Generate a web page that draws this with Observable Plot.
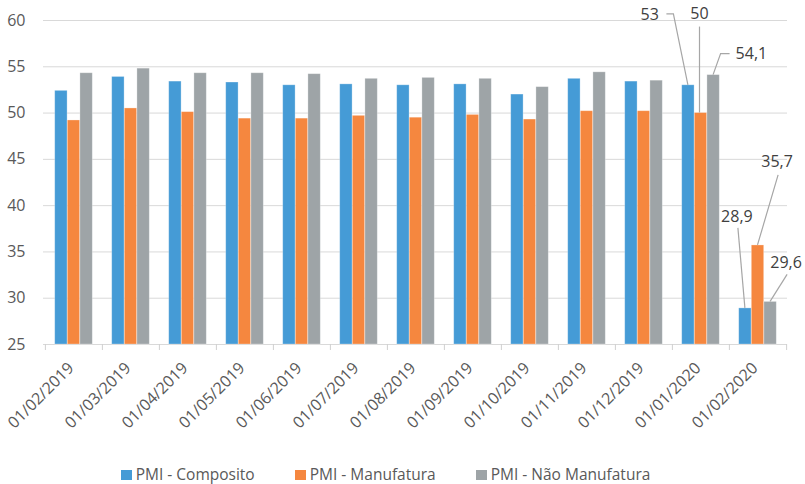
<!DOCTYPE html>
<html><head><meta charset="utf-8">
<script src="https://cdn.jsdelivr.net/npm/d3@7"></script>
<script src="https://cdn.jsdelivr.net/npm/@observablehq/plot@0.6"></script>
<style>
body{margin:0;background:#fff;font-family:"Open Sans",sans-serif;}
#legend{display:flex;justify-content:center;gap:40px;padding-right:34px;margin-top:18px;font-size:15.5px;line-height:19px;height:19px;color:#595959;}
#legend .item{display:flex;align-items:center;}
#legend .sw{display:inline-block;width:11px;height:10px;margin-right:4px;}
</style></head><body>
<div id="chart"></div>
<div id="legend"></div>
<script>
// ---- data ----
const dates = ["01/02/2019","01/03/2019","01/04/2019","01/05/2019","01/06/2019","01/07/2019","01/08/2019","01/09/2019","01/10/2019","01/11/2019","01/12/2019","01/01/2020","01/02/2020"];
const series = ["PMI - Composito","PMI - Manufatura","PMI - Não Manufatura"];
const composito     = [52.4,53.9,53.4,53.3,53.0,53.1,53.0,53.1,52.0,53.7,53.4,53.0,28.9];
const manufatura    = [49.2,50.5,50.1,49.4,49.4,49.7,49.5,49.8,49.3,50.2,50.2,50.0,35.7];
const naoManufatura = [54.3,54.8,54.3,54.3,54.2,53.7,53.8,53.7,52.8,54.4,53.5,54.1,29.6];
const yTicks = [25,30,35,40,45,50,55,60];
const labelledDates = ["01/01/2020","01/02/2020"];

// ---- layout / style ----
const colors = ["#459BD6","#F5873F","#9EA4A7"];
const W = 805, H = 447, mL = 43, mR = 18, mT = 20, mB = H - 344;
const bw = (W - mL - mR) / dates.length;
const barW = 12.6;
// label offsets (px) relative to the top-centre of the labelled bar
const labelLayout = {
  "01/01/2020|0": {t:[-29, -70, "end"],   p:[[-21.5,-71],[-14.5,-71],[0,0]]},
  "01/01/2020|1": {t:[-1, -99, "middle"], p:[[-1,-86],[-1,0]]},
  "01/01/2020|2": {t:[22.5, -21, "start"],p:[[16.5,-21],[7.5,-21],[0,0]]},
  "01/02/2020|0": {t:[-8, -91, "middle"], p:[[-7,-80],[0,0]]},
  "01/02/2020|1": {t:[19.6, -84, "middle"],p:[[20.6,-70],[0,0]]},
  "01/02/2020|2": {t:[16, -39, "middle"], p:[[17,-27],[0,0]]}
};

const values = [composito, manufatura, naoManufatura];
const rows = dates.flatMap((d, i) => series.map((s, j) => ({date: d, series: s, j, value: values[j][i]})));

const chart = Plot.plot({
  width: W, height: H,
  marginLeft: mL, marginRight: mR, marginTop: mT, marginBottom: mB,
  style: {fontFamily: "Open Sans", fontSize: "16px", background: "#fff"},
  x: {domain: dates, padding: 0, label: null},
  y: {domain: [25, 60], label: null},
  marks: [
    Plot.ruleY(yTicks, {stroke: "#d9d9d9", strokeWidth: 1}),
    Plot.ruleX(dates, {x: d => d, dx: -bw / 2, y1: 25, y2: 25, insetBottom: -6, stroke: "#d0d0d0"}),
    Plot.ruleX(dates.slice(-1), {x: d => d, dx: bw / 2, y1: 25, y2: 25, insetBottom: -6, stroke: "#d0d0d0"}),
    ...series.map((s, j) => Plot.barY(rows.filter(r => r.j === j), {
      x: "date", y1: 25, y2: "value", fill: colors[j],
      insetLeft: (bw - barW) / 2, insetRight: (bw - barW) / 2, dx: (j - 1) * barW,
      stroke: "#fff", strokeOpacity: 0.35, strokeWidth: 0.8
    })),
    Plot.axisY({ticks: yTicks, tickSize: 0, tickPadding: 18, fontSize: 16, color: "#595959"}),
    Plot.axisX({tickRotate: -45, tickSize: 0, tickPadding: 21, dx: -3, fontSize: 16, color: "#595959"})
  ]
});
document.getElementById("chart").appendChild(chart);

// annotations via the chart's own scales
const xs = chart.scale("x"), ys = chart.scale("y");
const svg = d3.select(chart);
const fmt = v => String(v).replace(".", ",");
const g = svg.append("g");
labelledDates.forEach(d => {
  const i = dates.indexOf(d);
  series.forEach((s, j) => {
    const L = labelLayout[d + "|" + j];
    if (!L) return;
    const v = values[j][i];
    const cx = xs.apply(d) + xs.bandwidth / 2 + (j - 1) * barW;
    const ty = ys.apply(v);
    g.append("path")
      .attr("d", d3.line()(L.p.map(([dx, dy]) => [cx + dx, ty + dy])))
      .attr("fill", "none").attr("stroke", "#a6a6a6").attr("stroke-width", 1.2);
    g.append("text")
      .attr("x", cx + L.t[0]).attr("y", ty + L.t[1]).attr("dy", "0.35em")
      .attr("text-anchor", L.t[2])
      .attr("fill", "#404040").attr("font-size", 16)
      .text(fmt(v));
  });
});

// legend
const leg = d3.select("#legend");
series.forEach((s, j) => {
  const it = leg.append("div").attr("class", "item");
  it.append("span").attr("class", "sw").style("background", colors[j]);
  it.append("span").text(s);
});
</script>
</body></html>
